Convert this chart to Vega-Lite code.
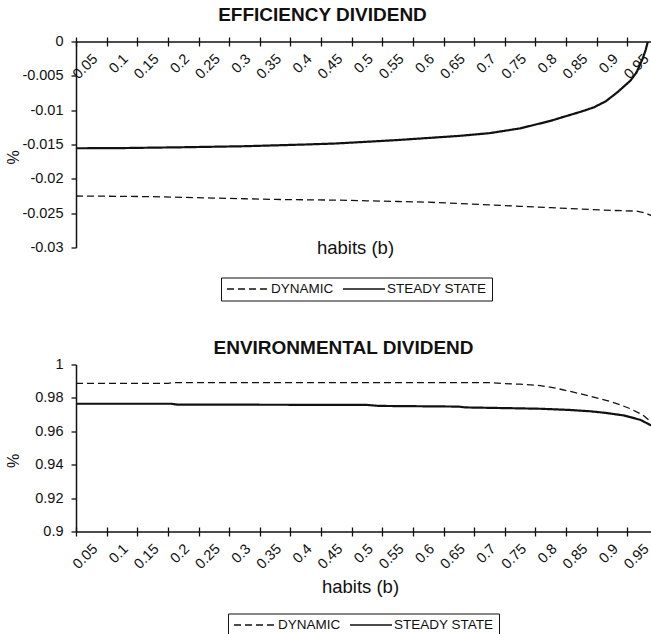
{
  "$schema": "https://vega.github.io/schema/vega-lite/v6.json",
  "padding": {"left": 5, "top": 5.5, "right": 0, "bottom": 0},
  "background": "white",
  "config": {
    "view": {"stroke": null},
    "font": "Liberation Sans",
    "axis": {
      "grid": false,
      "domainColor": "#111",
      "domainWidth": 1.5,
      "tickColor": "#111",
      "tickWidth": 1.3,
      "labelColor": "#111",
      "labelFont": "Liberation Sans",
      "labelFontSize": 14.5,
      "titleFont": "Liberation Sans",
      "titleColor": "#111",
      "titleFontWeight": "normal"
    },
    "legend": {
      "title": null,
      "direction": "horizontal",
      "orient": "none",
      "symbolType": "stroke",
      "symbolSize": 1764,
      "symbolStrokeWidth": 1.7,
      "symbolStrokeColor": "#111",
      "clipHeight": 13,
      "labelFont": "Liberation Sans",
      "labelFontSize": 13.5,
      "labelColor": "#111",
      "labelOffset": 1,
      "columnPadding": 8,
      "padding": 5,
      "strokeColor": "#111",
      "fillColor": "white",
      "cornerRadius": 0
    },
    "title": {"font": "Liberation Sans", "fontSize": 19, "fontWeight": "bold", "color": "#111", "anchor": "middle", "frame": "group"}
  },
  "datasets": {
    "eff": [
      {"b": 0.025, "series": "DYNAMIC", "v": -0.0225},
      {"b": 0.1, "series": "DYNAMIC", "v": -0.02255},
      {"b": 0.15, "series": "DYNAMIC", "v": -0.0226},
      {"b": 0.2, "series": "DYNAMIC", "v": -0.0227},
      {"b": 0.25, "series": "DYNAMIC", "v": -0.0228},
      {"b": 0.3, "series": "DYNAMIC", "v": -0.0229},
      {"b": 0.35, "series": "DYNAMIC", "v": -0.023},
      {"b": 0.4, "series": "DYNAMIC", "v": -0.02305},
      {"b": 0.45, "series": "DYNAMIC", "v": -0.0231},
      {"b": 0.5, "series": "DYNAMIC", "v": -0.0232},
      {"b": 0.55, "series": "DYNAMIC", "v": -0.0233},
      {"b": 0.6, "series": "DYNAMIC", "v": -0.0234},
      {"b": 0.65, "series": "DYNAMIC", "v": -0.0236},
      {"b": 0.7, "series": "DYNAMIC", "v": -0.0238},
      {"b": 0.75, "series": "DYNAMIC", "v": -0.024},
      {"b": 0.8, "series": "DYNAMIC", "v": -0.0242},
      {"b": 0.85, "series": "DYNAMIC", "v": -0.0244},
      {"b": 0.9, "series": "DYNAMIC", "v": -0.0246},
      {"b": 0.94, "series": "DYNAMIC", "v": -0.0247},
      {"b": 0.955, "series": "DYNAMIC", "v": -0.025},
      {"b": 0.965, "series": "DYNAMIC", "v": -0.0254},
      {"b": 0.025, "series": "STEADY STATE", "v": -0.01555},
      {"b": 0.1, "series": "STEADY STATE", "v": -0.01552},
      {"b": 0.2, "series": "STEADY STATE", "v": -0.0154},
      {"b": 0.3, "series": "STEADY STATE", "v": -0.01525},
      {"b": 0.4, "series": "STEADY STATE", "v": -0.015},
      {"b": 0.45, "series": "STEADY STATE", "v": -0.01485},
      {"b": 0.5, "series": "STEADY STATE", "v": -0.0146},
      {"b": 0.55, "series": "STEADY STATE", "v": -0.01435},
      {"b": 0.6, "series": "STEADY STATE", "v": -0.01405},
      {"b": 0.65, "series": "STEADY STATE", "v": -0.01375},
      {"b": 0.7, "series": "STEADY STATE", "v": -0.01335},
      {"b": 0.75, "series": "STEADY STATE", "v": -0.01265},
      {"b": 0.8, "series": "STEADY STATE", "v": -0.01155},
      {"b": 0.82, "series": "STEADY STATE", "v": -0.011},
      {"b": 0.85, "series": "STEADY STATE", "v": -0.0102},
      {"b": 0.87, "series": "STEADY STATE", "v": -0.0096},
      {"b": 0.89, "series": "STEADY STATE", "v": -0.0087},
      {"b": 0.91, "series": "STEADY STATE", "v": -0.0073},
      {"b": 0.93, "series": "STEADY STATE", "v": -0.0057},
      {"b": 0.94, "series": "STEADY STATE", "v": -0.0045},
      {"b": 0.95, "series": "STEADY STATE", "v": -0.0025},
      {"b": 0.955, "series": "STEADY STATE", "v": -0.0012},
      {"b": 0.9585, "series": "STEADY STATE", "v": 0}
    ],
    "env": [
      {"b": 0.025, "series": "DYNAMIC", "v": 0.9887},
      {"b": 0.175, "series": "DYNAMIC", "v": 0.9887},
      {"b": 0.185, "series": "DYNAMIC", "v": 0.9892},
      {"b": 0.7, "series": "DYNAMIC", "v": 0.9892},
      {"b": 0.72, "series": "DYNAMIC", "v": 0.9886},
      {"b": 0.75, "series": "DYNAMIC", "v": 0.9882},
      {"b": 0.783, "series": "DYNAMIC", "v": 0.9874},
      {"b": 0.81, "series": "DYNAMIC", "v": 0.9857},
      {"b": 0.837, "series": "DYNAMIC", "v": 0.9834},
      {"b": 0.865, "series": "DYNAMIC", "v": 0.981},
      {"b": 0.892, "series": "DYNAMIC", "v": 0.9784},
      {"b": 0.91, "series": "DYNAMIC", "v": 0.9763},
      {"b": 0.93, "series": "DYNAMIC", "v": 0.9735},
      {"b": 0.95, "series": "DYNAMIC", "v": 0.9698},
      {"b": 0.964, "series": "DYNAMIC", "v": 0.9655},
      {"b": 0.025, "series": "STEADY STATE", "v": 0.9765},
      {"b": 0.18, "series": "STEADY STATE", "v": 0.9765},
      {"b": 0.19, "series": "STEADY STATE", "v": 0.976},
      {"b": 0.5, "series": "STEADY STATE", "v": 0.9758},
      {"b": 0.52, "series": "STEADY STATE", "v": 0.9752},
      {"b": 0.65, "series": "STEADY STATE", "v": 0.9748},
      {"b": 0.66, "series": "STEADY STATE", "v": 0.9743},
      {"b": 0.74, "series": "STEADY STATE", "v": 0.9738},
      {"b": 0.783, "series": "STEADY STATE", "v": 0.9735},
      {"b": 0.83, "series": "STEADY STATE", "v": 0.9728},
      {"b": 0.864, "series": "STEADY STATE", "v": 0.972},
      {"b": 0.89, "series": "STEADY STATE", "v": 0.971},
      {"b": 0.919, "series": "STEADY STATE", "v": 0.9695},
      {"b": 0.946, "series": "STEADY STATE", "v": 0.9669},
      {"b": 0.964, "series": "STEADY STATE", "v": 0.9635}
    ]
  },
  "spacing": 37,
  "resolve": {
    "scale": {"x": "independent", "y": "independent", "strokeDash": "independent"},
    "legend": {"strokeDash": "independent"}
  },
  "vconcat": [
    {
      "title": {"text": "EFFICIENCY DIVIDEND", "dx": -41, "offset": 8.5},
      "width": 575,
      "height": 206,
      "data": {"name": "eff"},
      "resolve": {"axis": {"x": "independent", "y": "independent"}},
      "layer": [
        {
          "mark": {"type": "line", "color": "#111", "clip": true, "strokeJoin": "round"},
          "encoding": {
            "x": {
              "field": "b", "type": "quantitative",
              "scale": {"domain": [0.025, 0.9636], "nice": false, "zero": false},
              "axis": {
                "orient": "bottom", "offset": -206, "ticks": false,
                "values": [0.05, 0.1, 0.15, 0.2, 0.25, 0.3, 0.35, 0.4, 0.45, 0.5, 0.55, 0.6, 0.65, 0.7, 0.75, 0.8, 0.85, 0.9, 0.95],
                "labelExpr": "'' + datum.value",
                "labelOffset": 3.7,
                "labelAngle": -45, "labelAlign": "right", "labelBaseline": "middle",
                "labelPadding": 15,
                "title": "habits (b)", "titleFontSize": 18.5, "titleX": 279, "titleY": 206, "titleBaseline": "middle", "titleAlign": "center"
              }
            },
            "y": {
              "field": "v", "type": "quantitative",
              "scale": {"domain": [-0.03, 0], "nice": false, "zero": false},
              "axis": {
                "orient": "left",
                "values": [0, -0.005, -0.01, -0.015, -0.02, -0.025, -0.03],
                "labelExpr": "'' + datum.value",
                "tickSize": 5, "labelPadding": 8,
                "title": "%", "titleFontSize": 16, "titleX": -62.5, "titleY": 115.5, "titleBaseline": "middle", "titleAlign": "center"
              }
            },
            "strokeDash": {
              "field": "series", "type": "nominal",
              "scale": {"domain": ["DYNAMIC", "STEADY STATE"], "range": [[7, 4], [1, 0]]},
              "legend": {"legendX": 145, "legendY": 236}
            },
            "strokeWidth": {"condition": {"test": "datum.series === 'STEADY STATE'", "value": 2.2}, "value": 1.3}
          }
        },
        {
          "mark": {"type": "line", "opacity": 0},
          "encoding": {
            "x": {
              "field": "b", "type": "quantitative",
              "scale": {"domain": [0.025, 0.9636], "nice": false, "zero": false},
              "axis": {
                "orient": "bottom", "offset": -210.5, "ticks": true, "labels": false, "domain": false, "grid": false, "title": null,
                "values": [0.025, 0.075, 0.125, 0.175, 0.225, 0.275, 0.325, 0.375, 0.425, 0.475, 0.525, 0.575, 0.625, 0.675, 0.725, 0.775, 0.825, 0.875, 0.925],
                "tickSize": 9
              }
            },
            "y": {
              "field": "v", "type": "quantitative",
              "scale": {"domain": [-0.03, 0], "nice": false, "zero": false},
              "axis": null
            },
            "detail": {"field": "series", "type": "nominal"}
          }
        }
      ]
    },
    {
      "title": {"text": "ENVIRONMENTAL DIVIDEND", "dx": -20, "offset": -1},
      "width": 575,
      "height": 167,
      "data": {"name": "env"},
      "resolve": {"axis": {"x": "independent", "y": "independent"}},
      "layer": [
        {
          "mark": {"type": "line", "color": "#111", "clip": true, "strokeJoin": "round"},
          "encoding": {
            "x": {
              "field": "b", "type": "quantitative",
              "scale": {"domain": [0.025, 0.9636], "nice": false, "zero": false},
              "axis": {
                "orient": "bottom", "ticks": false,
                "values": [0.05, 0.1, 0.15, 0.2, 0.25, 0.3, 0.35, 0.4, 0.45, 0.5, 0.55, 0.6, 0.65, 0.7, 0.75, 0.8, 0.85, 0.9, 0.95],
                "labelExpr": "'' + datum.value",
                "labelOffset": 3.7,
                "labelAngle": -45, "labelAlign": "right", "labelBaseline": "middle",
                "labelPadding": 15,
                "title": "habits (b)", "titleFontSize": 18.5, "titleX": 284, "titleY": 55, "titleBaseline": "middle", "titleAlign": "center"
              }
            },
            "y": {
              "field": "v", "type": "quantitative",
              "scale": {"domain": [0.9, 1], "nice": false, "zero": false},
              "axis": {
                "orient": "left",
                "values": [0.9, 0.92, 0.94, 0.96, 0.98, 1],
                "labelExpr": "'' + datum.value",
                "tickSize": 5, "labelPadding": 8,
                "title": "%", "titleFontSize": 16, "titleX": -62.5, "titleY": 96, "titleBaseline": "middle", "titleAlign": "center"
              }
            },
            "strokeDash": {
              "field": "series", "type": "nominal",
              "scale": {"domain": ["DYNAMIC", "STEADY STATE"], "range": [[7, 4], [1, 0]]},
              "legend": {"legendX": 152, "legendY": 249}
            },
            "strokeWidth": {"condition": {"test": "datum.series === 'STEADY STATE'", "value": 2.2}, "value": 1.3}
          }
        },
        {
          "mark": {"type": "line", "opacity": 0},
          "encoding": {
            "x": {
              "field": "b", "type": "quantitative",
              "scale": {"domain": [0.025, 0.9636], "nice": false, "zero": false},
              "axis": {
                "orient": "bottom", "offset": -4.5, "ticks": true, "labels": false, "domain": false, "grid": false, "title": null,
                "values": [0.025, 0.075, 0.125, 0.175, 0.225, 0.275, 0.325, 0.375, 0.425, 0.475, 0.525, 0.575, 0.625, 0.675, 0.725, 0.775, 0.825, 0.875, 0.925],
                "tickSize": 9
              }
            },
            "y": {
              "field": "v", "type": "quantitative",
              "scale": {"domain": [0.9, 1], "nice": false, "zero": false},
              "axis": null
            },
            "detail": {"field": "series", "type": "nominal"}
          }
        }
      ]
    }
  ]
}
